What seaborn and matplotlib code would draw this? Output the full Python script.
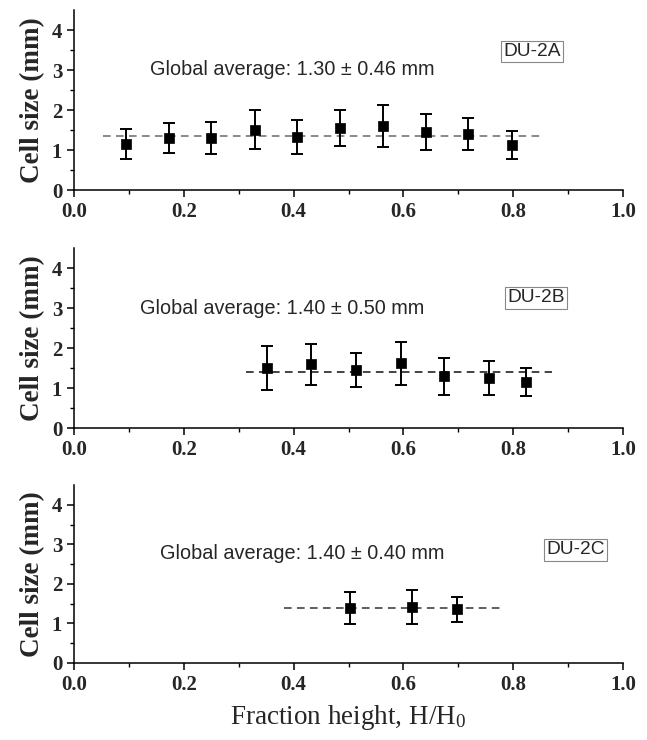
import matplotlib
matplotlib.use("Agg")
import matplotlib.pyplot as plt
import seaborn as sns
import pandas as pd

# ---------------- data ----------------
xA = [0.095, 0.173, 0.250, 0.329, 0.406, 0.485, 0.562, 0.641, 0.718, 0.797]
yA = [1.15, 1.30, 1.30, 1.51, 1.33, 1.55, 1.60, 1.45, 1.39, 1.13]
eA = [0.38, 0.38, 0.39, 0.49, 0.42, 0.46, 0.53, 0.46, 0.40, 0.35]

xB = [0.352, 0.432, 0.513, 0.595, 0.674, 0.756, 0.824]
yB = [1.49, 1.59, 1.45, 1.62, 1.29, 1.25, 1.16]
eB = [0.55, 0.52, 0.43, 0.54, 0.47, 0.42, 0.35]

xC = [0.502, 0.616, 0.698]
yC = [1.39, 1.41, 1.36]
eC = [0.40, 0.43, 0.32]

avgA_x = [0.053, 0.857]
avgA_y = [1.35, 1.35]
avgB_x = [0.314, 0.871]
avgB_y = [1.40, 1.40]
avgC_x = [0.383, 0.778]
avgC_y = [1.38, 1.38]

labels = ["DU-2A", "DU-2B", "DU-2C"]
avg_texts = ["Global average: 1.30 \u00b1 0.46 mm",
             "Global average: 1.40 \u00b1 0.50 mm",
             "Global average: 1.40 \u00b1 0.40 mm"]

xticks = [0.0, 0.2, 0.4, 0.6, 0.8, 1.0]
xticklabels = ["0.0", "0.2", "0.4", "0.6", "0.8", "1.0"]
yticks = [0, 1, 2, 3, 4]
yticklabels = ["0", "1", "2", "3", "4"]

# ---------------- style ----------------
sns.set_theme(style="ticks")
plt.rcParams["font.family"] = ["Liberation Serif", "DejaVu Serif"]
plt.rcParams["axes.linewidth"] = 1.1
plt.rcParams["mathtext.fontset"] = "custom"
plt.rcParams["mathtext.rm"] = "Liberation Serif"
plt.rcParams["mathtext.it"] = "Liberation Serif:italic"
plt.rcParams["mathtext.bf"] = "Liberation Serif:bold"
plt.rcParams["mathtext.default"] = "rm"

fig = plt.figure(figsize=(6.47, 7.4), dpi=100)
W, H = 647.0, 740.0
left, right = 74, 623
tops = [10, 248, 485]
bottoms = [190, 428, 663]

panels = [
    (xA, yA, eA, avgA_x, avgA_y, "#6a6a6a", (0.139, 3.02), (0.835, 3.46)),
    (xB, yB, eB, avgB_x, avgB_y, "#111111", (0.121, 3.0), (0.841, 3.25)),
    (xC, yC, eC, avgC_x, avgC_y, "#333333", (0.156, 2.76), (0.913, 2.86)),
]

for i, (xs, ys, es, lx, ly, lcol, tpos, bpos) in enumerate(panels):
    ax = fig.add_axes([left / W, 1 - bottoms[i] / H,
                       (right - left) / W, (bottoms[i] - tops[i]) / H])
    df = pd.DataFrame({"x": xs, "y": ys, "e": es})
    sns.lineplot(x=lx, y=ly, ax=ax, color=lcol, lw=1.1,
                 linestyle=(0, (5, 3.5)), zorder=1)
    ax.errorbar(df["x"], df["y"], yerr=df["e"], fmt="none",
                ecolor="black", elinewidth=1.4, capsize=4, capthick=1.4,
                zorder=2)
    sns.scatterplot(data=df, x="x", y="y", ax=ax, marker="s", s=42,
                    color="black", edgecolor="black", linewidth=0.5,
                    zorder=3)
    ax.set_xlim(0, 1.0)
    ax.set_ylim(0, 4.5)
    ax.set_xticks(xticks)
    ax.set_xticklabels(xticklabels)
    ax.set_yticks(yticks)
    ax.set_yticklabels(yticklabels)
    ax.set_xticks([0.1, 0.3, 0.5, 0.7, 0.9], minor=True)
    ax.set_yticks([0.5, 1.5, 2.5, 3.5], minor=True)
    ax.tick_params(axis="both", which="major", direction="out", length=5,
                   width=1.1, labelsize=15, pad=3.5, color="black")
    ax.tick_params(axis="both", which="minor", direction="out", length=2.8,
                   width=1.0, color="black")
    for lab in ax.get_xticklabels() + ax.get_yticklabels():
        lab.set_fontweight("bold")
    sns.despine(ax=ax)
    ax.spines["left"].set_color("black")
    ax.spines["bottom"].set_color("black")
    ax.set_xlabel("")
    ax.set_ylabel("Cell size (mm)", fontsize=19.5, fontweight="bold", labelpad=5)
    ax.text(tpos[0], tpos[1], avg_texts[i], fontsize=14.3,
            family=["Liberation Sans", "DejaVu Sans"], ha="left", va="center")
    ax.text(bpos[0], bpos[1], labels[i], fontsize=13.8,
            family=["Liberation Sans", "DejaVu Sans"], ha="center", va="center",
            bbox=dict(boxstyle="square,pad=0.12", facecolor="white",
                      edgecolor="#888888", linewidth=0.8))
    if i == 2:
        ax.set_xlabel("Fraction height, H/H$_0$", fontsize=19.5, labelpad=6)
    ax.set_facecolor("white")

fig.patch.set_facecolor("white")
fig.savefig("out.png", dpi=100, facecolor="white")
